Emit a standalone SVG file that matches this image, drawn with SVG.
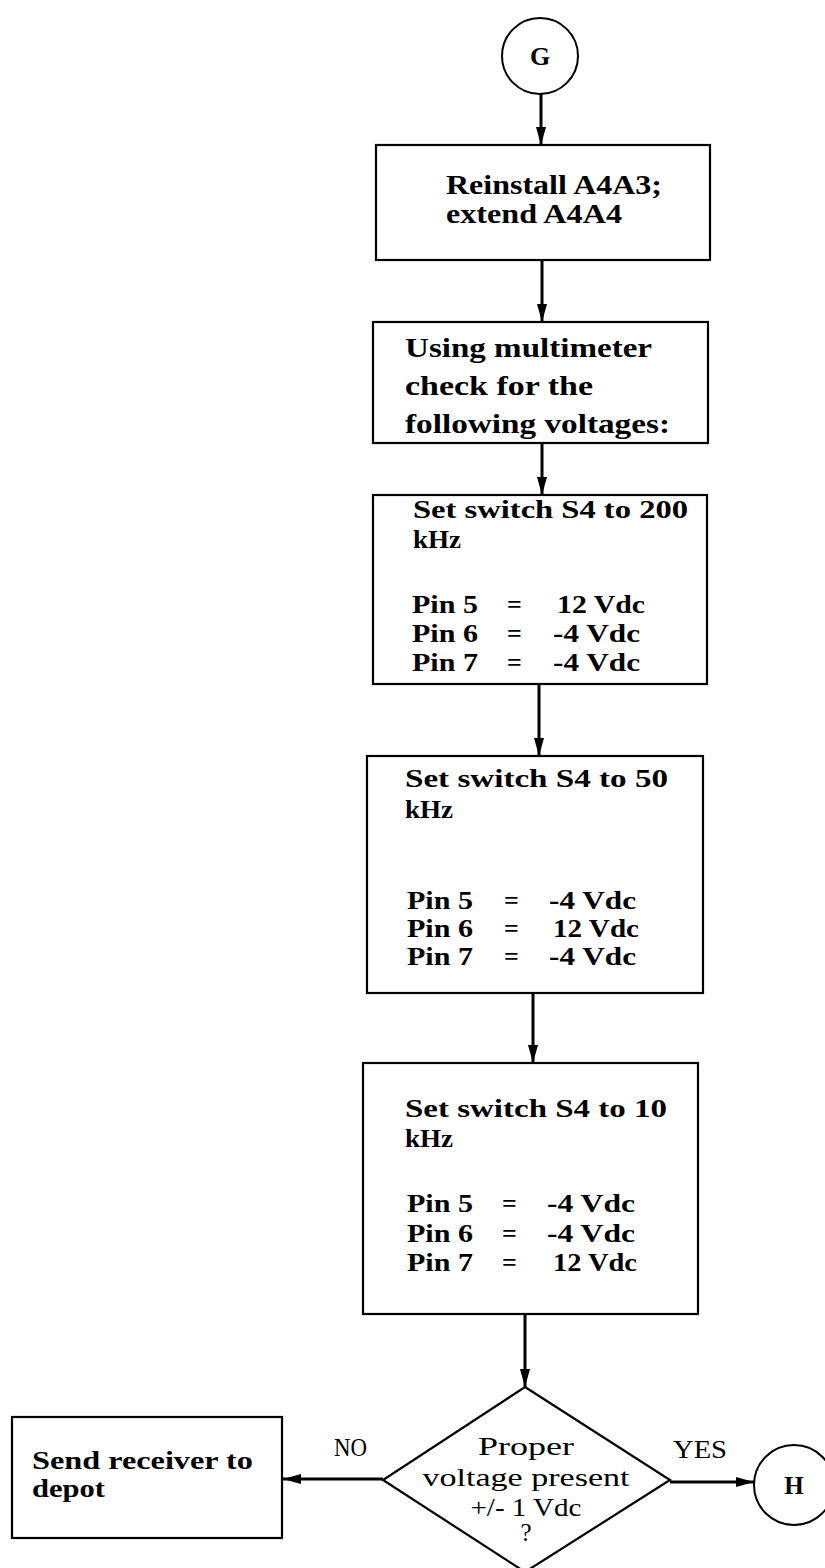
<svg xmlns="http://www.w3.org/2000/svg" width="825" height="1568" viewBox="0 0 825 1568">
<style>
.box{fill:#fff;stroke:#000;stroke-width:2.2}
.con{fill:none;stroke:#000;stroke-width:3}
.t{font-family:"Liberation Serif","Times New Roman",serif;font-weight:bold;fill:#000}
.tb{font-size:28px}
.ts{font-size:26px}
.tn{font-family:"Liberation Serif","Times New Roman",serif;font-weight:normal;fill:#000;font-size:25px}
</style>
<defs>
<marker id="ah" viewBox="0 0 18 10" refX="18" refY="5" markerWidth="18" markerHeight="10" markerUnits="userSpaceOnUse" orient="auto">
<path d="M0,0 L18,5 L0,10 z" fill="#000"/>
</marker>
</defs>
<rect width="825" height="1568" fill="#fff"/>
<g id="connectors">
<line class="con" x1="541" y1="94" x2="541" y2="145" marker-end="url(#ah)"/>
<line class="con" x1="542" y1="260" x2="542" y2="322" marker-end="url(#ah)"/>
<line class="con" x1="542" y1="443" x2="542" y2="495" marker-end="url(#ah)"/>
<line class="con" x1="539" y1="684" x2="539" y2="756" marker-end="url(#ah)"/>
<line class="con" x1="533" y1="993" x2="533" y2="1063" marker-end="url(#ah)"/>
<line class="con" x1="525" y1="1314" x2="525" y2="1387" marker-end="url(#ah)"/>
<line class="con" x1="383" y1="1479" x2="283" y2="1479" marker-end="url(#ah)"/>
<line class="con" x1="670" y1="1482" x2="754" y2="1482" marker-end="url(#ah)"/>
<text class="tn" x="334" y="1456" font-size="24" textLength="33" lengthAdjust="spacingAndGlyphs">NO</text>
<text class="tn" x="673" y="1458" font-size="24" textLength="54" lengthAdjust="spacingAndGlyphs">YES</text>
</g>
<g id="nodeG">
<circle cx="540" cy="56" r="38" fill="#fff" stroke="#000" stroke-width="2"/>
<text class="t" x="540" y="65" text-anchor="middle" font-size="26">G</text>
</g>
<g id="box1">
<rect class="box" x="376" y="145" width="334" height="115"/>
<text class="t tb" x="446" y="194" textLength="216" lengthAdjust="spacingAndGlyphs">Reinstall A4A3;</text>
<text class="t tb" x="446" y="223" textLength="176" lengthAdjust="spacingAndGlyphs">extend A4A4</text>
</g>
<g id="box2">
<rect class="box" x="373" y="322" width="335" height="121"/>
<text class="t tb" x="405" y="357" textLength="247" lengthAdjust="spacingAndGlyphs">Using multimeter</text>
<text class="t tb" x="405" y="395" textLength="188" lengthAdjust="spacingAndGlyphs">check for the</text>
<text class="t tb" x="405" y="433" textLength="265" lengthAdjust="spacingAndGlyphs">following voltages:</text>
</g>
<g id="box3">
<rect class="box" x="373" y="495" width="334" height="189"/>
<text class="t ts" x="413" y="518" textLength="275" lengthAdjust="spacingAndGlyphs">Set switch S4 to 200</text>
<text class="t ts" x="413" y="548" textLength="48" lengthAdjust="spacingAndGlyphs">kHz</text>
<text class="t ts" x="412" y="613" textLength="66" lengthAdjust="spacingAndGlyphs">Pin 5</text>
<text class="t ts" x="507" y="613">=</text>
<text class="t ts" x="557" y="613" textLength="88" lengthAdjust="spacingAndGlyphs">12 Vdc</text>
<text class="t ts" x="412" y="642" textLength="66" lengthAdjust="spacingAndGlyphs">Pin 6</text>
<text class="t ts" x="507" y="642">=</text>
<text class="t ts" x="553" y="642" textLength="87" lengthAdjust="spacingAndGlyphs">-4 Vdc</text>
<text class="t ts" x="412" y="671" textLength="66" lengthAdjust="spacingAndGlyphs">Pin 7</text>
<text class="t ts" x="507" y="671">=</text>
<text class="t ts" x="553" y="671" textLength="87" lengthAdjust="spacingAndGlyphs">-4 Vdc</text>
</g>
<g id="box4">
<rect class="box" x="367" y="756" width="336" height="237"/>
<text class="t ts" x="405" y="787" textLength="263" lengthAdjust="spacingAndGlyphs">Set switch S4 to 50</text>
<text class="t ts" x="405" y="818" textLength="48" lengthAdjust="spacingAndGlyphs">kHz</text>
<text class="t ts" x="407" y="909" textLength="66" lengthAdjust="spacingAndGlyphs">Pin 5</text>
<text class="t ts" x="504" y="909">=</text>
<text class="t ts" x="549" y="909" textLength="87" lengthAdjust="spacingAndGlyphs">-4 Vdc</text>
<text class="t ts" x="407" y="937" textLength="66" lengthAdjust="spacingAndGlyphs">Pin 6</text>
<text class="t ts" x="504" y="937">=</text>
<text class="t ts" x="553" y="937" textLength="86" lengthAdjust="spacingAndGlyphs">12 Vdc</text>
<text class="t ts" x="407" y="965" textLength="66" lengthAdjust="spacingAndGlyphs">Pin 7</text>
<text class="t ts" x="504" y="965">=</text>
<text class="t ts" x="549" y="965" textLength="87" lengthAdjust="spacingAndGlyphs">-4 Vdc</text>
</g>
<g id="box5">
<rect class="box" x="363" y="1063" width="335" height="251"/>
<text class="t ts" x="405" y="1117" textLength="262" lengthAdjust="spacingAndGlyphs">Set switch S4 to 10</text>
<text class="t ts" x="405" y="1147" textLength="48" lengthAdjust="spacingAndGlyphs">kHz</text>
<text class="t ts" x="407" y="1212" textLength="66" lengthAdjust="spacingAndGlyphs">Pin 5</text>
<text class="t ts" x="502" y="1212">=</text>
<text class="t ts" x="547" y="1212" textLength="88" lengthAdjust="spacingAndGlyphs">-4 Vdc</text>
<text class="t ts" x="407" y="1242" textLength="66" lengthAdjust="spacingAndGlyphs">Pin 6</text>
<text class="t ts" x="502" y="1242">=</text>
<text class="t ts" x="547" y="1242" textLength="88" lengthAdjust="spacingAndGlyphs">-4 Vdc</text>
<text class="t ts" x="407" y="1271" textLength="66" lengthAdjust="spacingAndGlyphs">Pin 7</text>
<text class="t ts" x="502" y="1271">=</text>
<text class="t ts" x="553" y="1271" textLength="84" lengthAdjust="spacingAndGlyphs">12 Vdc</text>
</g>
<g id="decision">
<polygon points="525,1387 670,1480 525,1572 383,1480" fill="#fff" stroke="#000" stroke-width="2.2"/>
<text class="tn" x="526" y="1455" text-anchor="middle" textLength="96" lengthAdjust="spacingAndGlyphs">Proper</text>
<text class="tn" x="526" y="1486" text-anchor="middle" textLength="207" lengthAdjust="spacingAndGlyphs">voltage present</text>
<text class="tn" x="526" y="1516" text-anchor="middle" textLength="111" lengthAdjust="spacingAndGlyphs">+/- 1 Vdc</text>
<text class="tn" x="526" y="1541" text-anchor="middle">?</text>
</g>
<g id="depot">
<rect class="box" x="12" y="1417" width="270" height="121"/>
<text class="t" font-size="26" x="32" y="1469" textLength="221" lengthAdjust="spacingAndGlyphs">Send receiver to</text>
<text class="t" font-size="26" x="32" y="1497" textLength="73" lengthAdjust="spacingAndGlyphs">depot</text>
</g>
<g id="nodeH">
<circle cx="794" cy="1485" r="40" fill="#fff" stroke="#000" stroke-width="2"/>
<text class="t" x="794" y="1494" text-anchor="middle" font-size="25">H</text>
</g>
</svg>
